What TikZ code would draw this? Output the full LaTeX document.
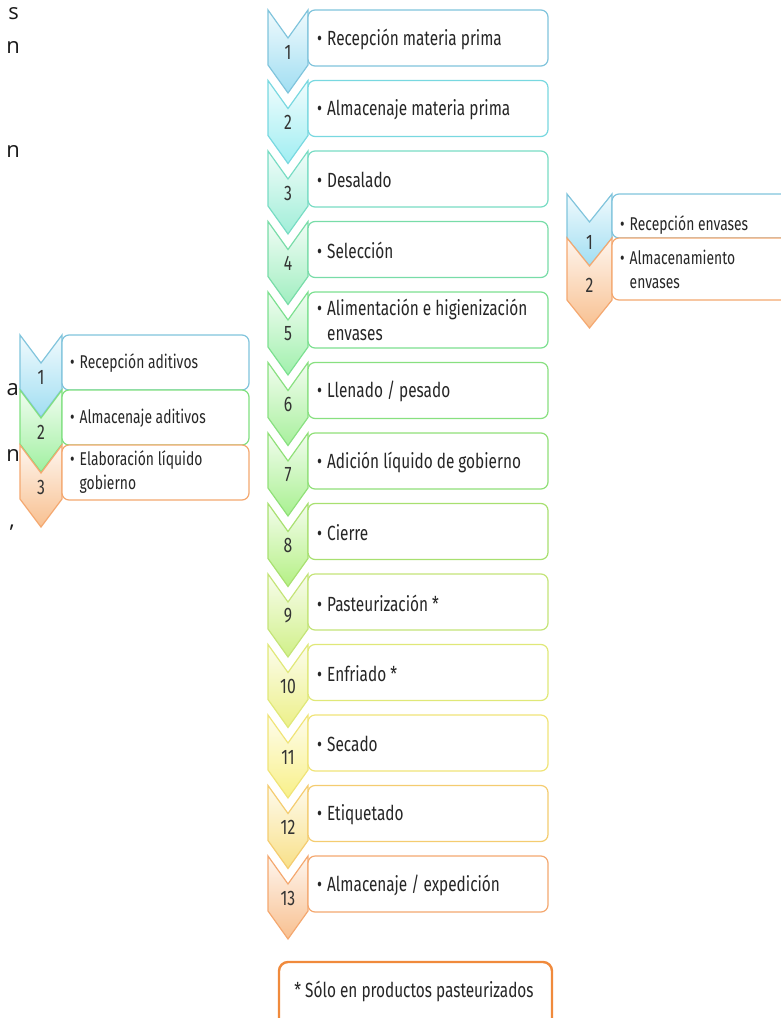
\documentclass[tikz,border=0pt]{standalone}
\usepackage{fontspec}
\setmainfont{Fira Sans}[FakeStretch=0.75]
\newfontfamily\edgefont{Open Sans}
\usepackage{tikz}
\usetikzlibrary{calc}
\def\chevron[#1](#2,#3)(#4:#5){\draw[#1] (#2,#3) -- ++({#4/2},28) -- ++({#4/2},-28) -- ++(0,#5) -- ++({-#4/2},28) -- ++({-#4/2},-28) -- cycle;}
\def\bul{•\hspace{5pt}}

\definecolor{fA}{HTML}{A0DEF2}\definecolor{bA}{HTML}{80C4DC}
\definecolor{fB}{HTML}{A0EEF2}\definecolor{bB}{HTML}{78D8E0}
\definecolor{fC}{HTML}{A0EED8}\definecolor{bC}{HTML}{78DCC4}
\definecolor{fD}{HTML}{A0EEC0}\definecolor{bD}{HTML}{78DCA8}
\definecolor{fE}{HTML}{A0F0AC}\definecolor{bE}{HTML}{7CE090}
\definecolor{fF}{HTML}{A8F09C}\definecolor{bF}{HTML}{88E080}
\definecolor{fG}{HTML}{A8F090}\definecolor{bG}{HTML}{90E078}
\definecolor{fH}{HTML}{B4F084}\definecolor{bH}{HTML}{A8E070}
\definecolor{fI}{HTML}{D0F088}\definecolor{bI}{HTML}{C4E478}
\definecolor{fJ}{HTML}{ECF088}\definecolor{bJ}{HTML}{E0E878}
\definecolor{fK}{HTML}{F8F088}\definecolor{bK}{HTML}{F0E478}
\definecolor{fL}{HTML}{F8E088}\definecolor{bL}{HTML}{F4CC70}
\definecolor{fM}{HTML}{F8C090}\definecolor{bM}{HTML}{F4A870}
\definecolor{fGr}{HTML}{A0F0A0}\definecolor{bGr}{HTML}{80E080}
\definecolor{note}{HTML}{F08A3C}

\tikzset{
	box/.style={rounded corners=7pt, fill=white, line width=1.2pt},
	lbl/.style={anchor=west, align=left, inner sep=0pt, text=black!85, font=\fontsize{20.5}{25}\selectfont},
	slbl/.style={anchor=west, align=left, inner sep=0pt, text=black!85, font=\fontsize{18.5}{24}\selectfont},
	num/.style={text=black!80, inner sep=0pt, font=\fontsize{21}{21}\selectfont},
	cut/.style={anchor=east, inner sep=0pt, text=black!90, font=\edgefont\fontsize{22}{22}\selectfont}
}

\begin{document}
\begin{tikzpicture}[x=1pt, y=-1pt]
			%%%%% START %%%%%
			\useasboundingbox (0,0) rectangle (780,1018);
			
			% letters cut at the page edge
			\node[cut] (e1) at (19,14) {s};
			\node[cut] (e2) at (20,48) {n};
			\node[cut] (e3) at (20,152) {n};
			\node[cut] (e4) at (19,390) {a};
			\node[cut] (e5) at (20,455) {n};
			\node[cut] (e6) at (15,528) {,};
			
			% main line
			\chevron[line width=1.2pt, draw=bA, top color=fA!15!white, bottom color=fA](268,10)(40:55);
			\draw[box, draw=bA] (308,10) rectangle (548,66);
			\node[num] (n1) at (288,52) {1};
			\node[lbl] (s1) at (317,39) {\bul Recepción materia prima};
			
			\chevron[line width=1.2pt, draw=bB, top color=fB!15!white, bottom color=fB](268,80.5)(40:55);
			\draw[box, draw=bB] (308,80.5) rectangle (548,136.5);
			\node[num] (n2) at (288,122.5) {2};
			\node[lbl] (s2) at (317,109.5) {\bul Almacenaje materia prima};
			
			\chevron[line width=1.2pt, draw=bC, top color=fC!15!white, bottom color=fC](268,151)(40:55);
			\draw[box, draw=bC] (308,151) rectangle (548,207);
			\node[num] (n3) at (288,193) {3};
			\node[lbl] (s3) at (317,180) {\bul Desalado};
			
			\chevron[line width=1.2pt, draw=bD, top color=fD!15!white, bottom color=fD](268,221.5)(40:55);
			\draw[box, draw=bD] (308,221.5) rectangle (548,277.5);
			\node[num] (n4) at (288,263.5) {4};
			\node[lbl] (s4) at (317,250.5) {\bul Selección};
			
			\chevron[line width=1.2pt, draw=bE, top color=fE!15!white, bottom color=fE](268,292)(40:55);
			\draw[box, draw=bE] (308,292) rectangle (548,348);
			\node[num] (n5) at (288,334) {5};
			\node[lbl] (s5) at (317,320) {\bul Alimentación e higienización\\\phantom{\bul}envases};
			
			\chevron[line width=1.2pt, draw=bF, top color=fF!15!white, bottom color=fF](268,362.5)(40:55);
			\draw[box, draw=bF] (308,362.5) rectangle (548,418.5);
			\node[num] (n6) at (288,404.5) {6};
			\node[lbl] (s6) at (317,391.5) {\bul Llenado / pesado};
			
			\chevron[line width=1.2pt, draw=bG, top color=fG!15!white, bottom color=fG](268,433)(40:55);
			\draw[box, draw=bG] (308,433) rectangle (548,489);
			\node[num] (n7) at (288,475) {7};
			\node[lbl] (s7) at (317,462) {\bul Adición líquido de gobierno};
			
			\chevron[line width=1.2pt, draw=bH, top color=fH!15!white, bottom color=fH](268,503.5)(40:55);
			\draw[box, draw=bH] (308,503.5) rectangle (548,559.5);
			\node[num] (n8) at (288,545.5) {8};
			\node[lbl] (s8) at (317,532.5) {\bul Cierre};
			
			\chevron[line width=1.2pt, draw=bI, top color=fI!15!white, bottom color=fI](268,574)(40:55);
			\draw[box, draw=bI] (308,574) rectangle (548,630);
			\node[num] (n9) at (288,616) {9};
			\node[lbl] (s9) at (317,603) {\bul Pasteurización *};
			
			\chevron[line width=1.2pt, draw=bJ, top color=fJ!15!white, bottom color=fJ](268,644.5)(40:55);
			\draw[box, draw=bJ] (308,644.5) rectangle (548,700.5);
			\node[num] (n10) at (288,686.5) {10};
			\node[lbl] (s10) at (317,673.5) {\bul Enfriado *};
			
			\chevron[line width=1.2pt, draw=bK, top color=fK!15!white, bottom color=fK](268,715)(40:55);
			\draw[box, draw=bK] (308,715) rectangle (548,771);
			\node[num] (n11) at (288,757) {11};
			\node[lbl] (s11) at (317,744) {\bul Secado};
			
			\chevron[line width=1.2pt, draw=bL, top color=fL!15!white, bottom color=fL](268,785.5)(40:55);
			\draw[box, draw=bL] (308,785.5) rectangle (548,841.5);
			\node[num] (n12) at (288,827.5) {12};
			\node[lbl] (s12) at (317,814.5) {\bul Etiquetado};
			
			\chevron[line width=1.2pt, draw=bM, top color=fM!15!white, bottom color=fM](268,856)(40:55);
			\draw[box, draw=bM] (308,856) rectangle (548,912);
			\node[num] (n13) at (288,898) {13};
			\node[lbl] (s13) at (317,885) {\bul Almacenaje / expedición};
			
			% note
			\draw[rounded corners=9pt, fill=white, draw=note, line width=2.4pt] (279,962) rectangle (552,1040);
			\node[lbl, anchor=center] (nota) at (414,991) {* Sólo en productos pasteurizados};
			
			% aditivos
			\chevron[line width=1.2pt, draw=bA, top color=fA!15!white, bottom color=fA](20,335)(42:54);
			\chevron[line width=1.2pt, draw=bGr, top color=fGr!15!white, bottom color=fGr](20,390)(42:54);
			\chevron[line width=1.2pt, draw=bM, top color=fM!15!white, bottom color=fM](20,445)(42:54);
			\draw[box, draw=bA] (62,335) rectangle (249,390);
			\draw[box, draw=bGr] (62,390) rectangle (249,445);
			\draw[box, draw=bM] (62,445) rectangle (249,500);
			\node[num] (a1) at (41,377) {1};
			\node[num] (a2) at (41,432) {2};
			\node[num] (a3) at (41,487) {3};
			\node[slbl] (r1) at (70,363) {\bul Recepción aditivos};
			\node[slbl] (r2) at (70,418) {\bul Almacenaje aditivos};
			\node[slbl] (r3) at (70,472) {\bul Elaboración líquido\\\phantom{\bul}gobierno};
			
			% envases
			\chevron[line width=1.2pt, draw=bA, top color=fA!15!white, bottom color=fA](567,194)(45:44);
			\chevron[line width=1.2pt, draw=bM, top color=fM!15!white, bottom color=fM](567,238)(45:62);
			\draw[box, draw=bA] (612,194) rectangle (800,238);
			\draw[box, draw=bM] (612,238) rectangle (800,300);
			\node[num] (v1) at (589.5,242) {1};
			\node[num] (v2) at (589.5,285) {2};
			\node[slbl] (w1) at (620,225) {\bul Recepción envases};
			\node[slbl] (w2) at (620,269) {\bul Almacenamiento\\\phantom{\bul}envases};
			
			%%%%% END %%%%%
		\end{tikzpicture}
\end{document}
